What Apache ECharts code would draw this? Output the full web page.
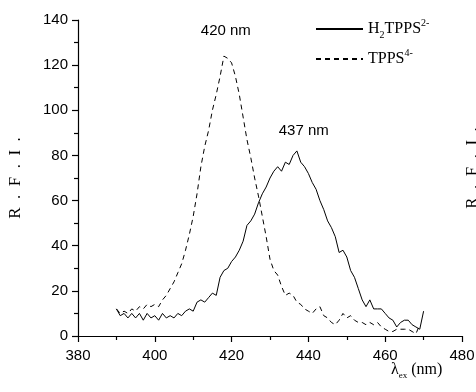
<!DOCTYPE html>
<html>
<head>
<meta charset="utf-8">
<script src="https://cdn.jsdelivr.net/npm/echarts@6/dist/echarts.min.js"></script>
<style>
html,body{margin:0;padding:0;background:#fff;}
#chart{width:476px;height:392px;}
</style>
</head>
<body>
<div id="chart"></div>
<script>
// wavelength (nm)
const wavelengths = [390,391,392,393,394,395,396,397,398,399,400,401,402,403,404,405,406,407,408,409,410,411,412,413,414,415,416,417,418,419,420,421,422,423,424,425,426,427,428,429,430,431,432,433,434,435,436,437,438,439,440,441,442,443,444,445,446,447,448,449,450,451,452,453,454,455,456,457,458,459,460,461,462,463,464,465,466,467,468,469,470];
// H2TPPS2- (solid)
const h2tpps = [12,9,10,8,10,8,10,7,10,8,9,7,10,8,9,8,10,9,11,12,11,15,16,15,17,19,18,26,29,30,33,35,38,42,49,51,54,59,63,66,70,73,75,73,77,76,80,82,77,75,72,68,65,60,56,51,48,44,37,38,35,29,26,21,16,13,16,12,12,12,10,8,7,4,6,7,7,5,4,3,11];
// TPPS4- (dashed), 390..469
const tpps = [12,10,11,10,12,11,13,12,14,13,14,13,16,18,21,24,28,32,38,45,53,63,75,84,91,100,107,115,124,123,121,115,107,97,87,79,70,62,53,44,34,29,27,22,18,19,18,15,14,12,11,10,12,13,9,8,6,5,7,10,8,9,7,6,6,5,6,5,6,4,3,2,2,3,3,3,3,2,1,5];
const xTicks = [380,400,420,440,460,480];
const yTicks = [0,20,40,60,80,100,120,140];
const seriesNames = ['H2TPPS2-','TPPS4-'];
const peakLabels = [{text:'420 nm', x:418.5, y:135},{text:'437 nm', x:438.8, y:91}];

const chart = echarts.init(document.getElementById('chart'), null, {renderer:'canvas'});
const sans = 'Liberation Sans, Arial, sans-serif';
const serif = 'Liberation Serif, Times New Roman, serif';

const toPairs = (ys) => ys.map((v,i)=>[wavelengths[i], v]);

const option = {
  backgroundColor:'#fff',
  animation:false,
  grid:{left:78, right:14, top:20, bottom:56, containLabel:false, outerBoundsMode:'none'},
  xAxis:{
    type:'value', min:xTicks[0], max:xTicks[xTicks.length-1], interval:20,
    axisLine:{show:true, onZero:false, lineStyle:{color:'#000', width:1.2}},
    axisTick:{show:true, inside:false, length:6, lineStyle:{color:'#000', width:1.2}},
    minorTick:{show:true, splitNumber:2, length:4, lineStyle:{color:'#000', width:1.2}},
    splitLine:{show:false},
    axisLabel:{color:'#000', fontFamily:sans, fontSize:15, margin:12}
  },
  yAxis:{
    type:'value', min:yTicks[0], max:yTicks[yTicks.length-1], interval:20,
    name:'R  .  F  .  I  .', nameLocation:'middle', nameGap:54, nameRotate:90,
    nameTextStyle:{color:'#000', fontFamily:serif, fontSize:17},
    axisLine:{show:true, onZero:false, lineStyle:{color:'#000', width:1.2}},
    axisTick:{show:true, inside:false, length:6, lineStyle:{color:'#000', width:1.2}},
    minorTick:{show:true, splitNumber:2, length:4, lineStyle:{color:'#000', width:1.2}},
    splitLine:{show:false},
    axisLabel:{color:'#000', fontFamily:sans, fontSize:15, margin:10}
  },
  legend:{
    orient:'vertical', left:310, top:13, itemWidth:47, itemHeight:14, itemGap:8,
    itemStyle:{opacity:0},
    data:seriesNames,
    formatter:function(n){
      if(n===seriesNames[0]) return '{n|H}{sub|2}{n|TPPS}{sup|2-}';
      return '{n|TPPS}{sup|4-}';
    },
    textStyle:{
      color:'#000', fontFamily:serif, fontSize:16,
      rich:{
        n:{fontFamily:serif, fontSize:16, color:'#000', lineHeight:22},
        sub:{fontFamily:serif, fontSize:10, color:'#000', verticalAlign:'bottom', lineHeight:10},
        sup:{fontFamily:serif, fontSize:10, color:'#000', verticalAlign:'top', lineHeight:10}
      }
    }
  },
  series:[
    {
      name:seriesNames[0], type:'line', data:toPairs(h2tpps), showSymbol:false, symbol:'none',
      lineStyle:{color:'#000', width:1, type:'solid'}, itemStyle:{color:'#000'},
      markPoint:{
        symbol:'circle', symbolSize:0, silent:true,
        label:{show:true, formatter:'{b}', color:'#000', fontFamily:sans, fontSize:15, position:'inside'},
        data:peakLabels.map(p=>({name:p.text, coord:[p.x,p.y]}))
      }
    },
    {
      name:seriesNames[1], type:'line', data:toPairs(tpps), showSymbol:false, symbol:'none',
      lineStyle:{color:'#000', width:1, type:[5,4]}, itemStyle:{color:'#000'}
    }
  ],
  graphic:[
    {
      type:'text', left:391, top:362,
      style:{
        text:'{l|λ}{s|ex}{n| (nm)}',
        fill:'#000',
        rich:{
          l:{fontFamily:serif, fontSize:16, fill:'#000', lineHeight:20},
          s:{fontFamily:serif, fontSize:9, fill:'#000', verticalAlign:'bottom', lineHeight:9},
          n:{fontFamily:serif, fontSize:16, fill:'#000', lineHeight:20}
        }
      }
    },
    {
      type:'text', x:481, y:168, rotation:Math.PI/2,
      style:{text:'R  .  F  .  I  .', fill:'#000', font:'17px Liberation Serif', align:'center', verticalAlign:'bottom'}
    }
  ]
};
chart.setOption(option);
</script>
</body>
</html>
